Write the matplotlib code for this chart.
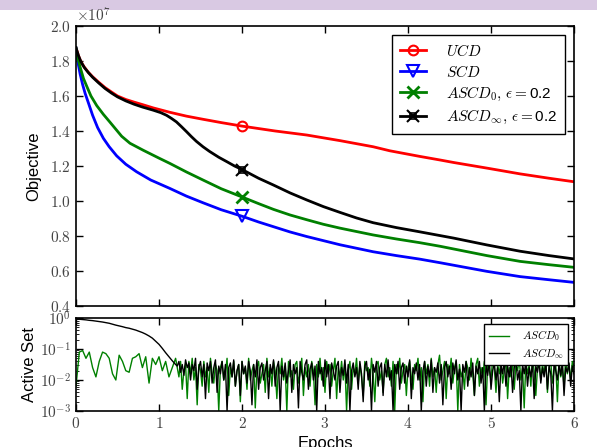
import numpy as np
import matplotlib
matplotlib.use("Agg")
import matplotlib.pyplot as plt
from matplotlib.patches import Rectangle
from matplotlib.legend_handler import HandlerTuple
from matplotlib.lines import Line2D

plt.rcParams['font.family'] = ['Liberation Sans', 'DejaVu Sans']
plt.rcParams['mathtext.fontset'] = 'cm'

# ---- Objective curves (units of 1e7) ----
ucd_x = [0, 0.03, 0.06, 0.1, 0.15, 0.2, 0.27, 0.35, 0.43, 0.5, 0.6, 0.7, 0.8, 0.93, 1.13, 1.33, 1.53, 1.75, 2.0,
         2.4, 2.78, 3.18, 3.58, 3.78, 4.14, 4.39, 4.55, 4.95, 5.35, 5.7, 6.0]
ucd_y = [1.875, 1.83, 1.795, 1.765, 1.735, 1.71, 1.68, 1.648, 1.622, 1.60, 1.58, 1.565, 1.551, 1.532, 1.507, 1.485,
         1.467, 1.448, 1.428, 1.40, 1.377, 1.345, 1.31, 1.287, 1.255, 1.234, 1.22, 1.188, 1.155, 1.13, 1.11]

scd_x = [0, 0.015, 0.03, 0.05, 0.08, 0.11, 0.15, 0.2, 0.26, 0.33, 0.4, 0.49, 0.6, 0.73, 0.9, 1.13, 1.33, 1.53, 1.75,
         2.0, 2.2, 2.38, 2.58, 2.78, 3.18, 3.58, 3.86, 4.14, 4.39, 4.95, 5.35, 5.7, 6.0]
scd_y = [1.875, 1.82, 1.775, 1.725, 1.665, 1.615, 1.56, 1.49, 1.42, 1.358, 1.31, 1.258, 1.21, 1.167, 1.12, 1.072,
         1.028, 0.99, 0.95, 0.913, 0.88, 0.853, 0.823, 0.797, 0.75, 0.71, 0.688, 0.668, 0.647, 0.598, 0.568, 0.55, 0.535]

ascd0_x = [0, 0.02, 0.05, 0.09, 0.13, 0.18, 0.25, 0.33, 0.41, 0.48, 0.55, 0.65, 0.81, 1.0, 1.13, 1.33, 1.53, 1.75,
           2.0, 2.2, 2.38, 2.58, 2.78, 2.98, 3.18, 3.58, 3.86, 4.14, 4.39, 4.95, 5.35, 5.7, 6.0]
ascd0_y = [1.875, 1.82, 1.765, 1.70, 1.655, 1.60, 1.545, 1.495, 1.45, 1.41, 1.37, 1.33, 1.29, 1.245, 1.215, 1.166,
           1.12, 1.07, 1.023, 0.985, 0.952, 0.92, 0.893, 0.867, 0.845, 0.806, 0.783, 0.762, 0.741, 0.688, 0.655,
           0.636, 0.621]

ascdinf_x = [0, 0.03, 0.06, 0.1, 0.15, 0.2, 0.27, 0.35, 0.43, 0.5, 0.6, 0.7, 0.8, 0.93, 1.02, 1.09, 1.15, 1.21, 1.27,
             1.33, 1.39, 1.45, 1.53, 1.61, 1.72, 1.82, 1.91, 2.0, 2.2, 2.38, 2.58, 2.78, 2.98, 3.18, 3.38, 3.58,
             3.86, 4.14, 4.55, 4.95, 5.35, 5.7, 6.0]
ascdinf_y = [1.875, 1.83, 1.795, 1.763, 1.733, 1.707, 1.676, 1.643, 1.616, 1.595, 1.572, 1.553, 1.537, 1.519, 1.505,
             1.49, 1.472, 1.452, 1.425, 1.397, 1.368, 1.341, 1.31, 1.283, 1.25, 1.224, 1.20, 1.18, 1.13, 1.091,
             1.046, 1.006, 0.968, 0.935, 0.903, 0.876, 0.848, 0.824, 0.788, 0.749, 0.713, 0.688, 0.669]

# ---- Active set fraction (log10 exponents) ----
# first 31 samples every 0.04 epochs (0 .. 1.2), then 240 samples every 0.02 epochs (1.22 .. 6.0)
active_epochs = np.concatenate([np.arange(31) * 0.04, 1.2 + np.arange(1, 241) * 0.02])
ascd0_active_exp = [
    -2.2, -1.1, -1.05, -1.3, -1.1, -1.6, -1.9, -1.4, -1.1, -1.15, -1.3, -1.8, -2.0, -1.2, -1.4, -1.7, -1.75, -1.3,
    -1.25, -1.15, -1.6, -1.25, -2.1, -1.3, -1.5, -1.25, -1.7, -1.4, -1.9, -1.6, -1.3,
    -1.6, -1.9, -1.4, -2.3, -1.7, -1.5, -2.6, -1.4, -1.8, -1.3, -2.0, -1.6, -2.8, -1.5, -1.7, -2.2, -1.4, -1.9, -1.6, -2.4,
    -1.3, -1.8, -2.1, -1.5, -1.7, -3.0, -1.6, -1.4, -2.0, -1.8, -1.3, -2.5, -1.6, -1.9, -1.4, -2.2, -1.7, -1.5, -2.7, -1.4,
    -1.8, -1.6, -2.3, -1.3, -2.0, -1.7, -1.5, -2.9, -1.6, -1.4, -2.1, -1.8, -1.5, -2.4, -1.3, -1.9, -1.6, -2.2, -1.4, -1.7,
    -2.6, -1.5, -1.8, -1.3, -2.0, -1.6, -3.0, -1.4, -1.9, -1.7, -2.3, -1.5, -1.4, -2.1, -1.8, -1.3, -2.5, -1.6, -1.9, -1.5,
    -2.2, -1.4, -1.7, -2.8, -1.5, -1.9, -1.3, -2.0, -1.6, -2.4, -1.4, -1.8, -1.5, -2.2, -1.7, -1.3, -2.6, -1.6, -1.9, -1.4,
    -2.0, -1.5, -3.0, -1.7, -1.4, -2.3, -1.6, -1.8, -1.3, -2.1, -1.5, -1.9, -2.5, -1.4, -1.7, -1.6, -2.2, -1.3, -1.8, -2.7,
    -1.5, -1.4, -2.0, -1.7, -2.4, -1.5, -1.3, -1.9, -1.6, -2.2, -1.4, -3.0, -1.5, -1.8, -1.3, -2.1, -1.7, -1.5, -2.5, -1.6,
    -1.4, -1.9, -2.3, -1.5, -1.7, -1.3, -2.0, -1.6, -2.7, -1.4, -1.8, -1.5, -2.2, -1.3, -1.9, -1.6, -2.4, -1.5, -1.2, -2.0,
    -1.7, -1.4, -2.6, -1.5, -1.8, -1.3, -2.1, -1.6, -1.4, -3.0, -1.5, -1.9, -1.7, -2.3, -1.4, -1.6, -2.0, -1.3, -1.8, -2.5,
    -1.5, -1.3, -2.2, -1.6, -1.9, -1.4, -2.8, -1.5, -1.7, -2.0, -1.3, -1.6, -2.4, -1.5, -1.8, -1.4, -2.1, -1.7, -1.3, -2.6,
    -1.6, -1.9, -1.4, -2.3, -1.5, -1.7, -1.3, -2.0, -1.6, -2.9, -1.4, -1.8, -1.5, -2.2, -1.3, -1.7, -2.5, -1.6, -1.4, -2.0,
    -1.5, -1.8, -1.3, -2.4, -1.6, -1.4, -2.1, -1.7, -1.5, -2.7, -1.4, -1.9, -1.6, -2.2, -1.3, -1.8, -1.5, -2.0, -1.4, -1.6,
]
ascdinf_active_exp = [
    -0.03, -0.04, -0.05, -0.06, -0.075, -0.085, -0.1, -0.115, -0.13, -0.15, -0.17, -0.2, -0.23, -0.255, -0.28, -0.31,
    -0.33, -0.36, -0.39, -0.43, -0.47, -0.52, -0.58, -0.65, -0.75, -0.85, -0.98, -1.12, -1.25, -1.38, -1.5,
    -1.55, -1.4, -1.75, -1.5, -1.85, -1.35, -1.6, -1.45, -2.0, -1.5, -1.7, -1.3, -2.3, -1.6, -1.4, -1.9, -1.5, -2.6, -1.45, -1.7,
    -1.4, -2.1, -1.6, -1.35, -2.4, -1.55, -1.8, -1.4, -2.0, -1.5, -3.0, -1.6, -1.45, -1.9, -1.35, -2.2, -1.7, -1.5, -2.5, -1.4,
    -1.8, -1.55, -2.1, -1.4, -1.7, -2.8, -1.5, -1.9, -1.35, -2.3, -1.6, -1.45, -2.0, -1.7, -1.4, -2.6, -1.5, -1.8, -1.35, -2.2,
    -1.6, -1.4, -3.0, -1.55, -1.9, -1.45, -2.1, -1.7, -1.35, -2.4, -1.5, -1.8, -1.6, -2.9, -1.4, -1.75, -2.0, -1.5, -1.35, -2.3,
    -1.65, -1.45, -2.0, -1.55, -3.0, -1.4, -1.8, -1.6, -2.2, -1.35, -1.9, -1.5, -2.6, -1.45, -1.7, -2.0, -1.55, -1.4, -2.4, -1.6,
    -1.85, -1.35, -2.1, -1.5, -3.0, -1.7, -1.45, -1.9, -1.6, -2.3, -1.4, -1.8, -2.7, -1.55, -1.4, -2.0, -1.65, -3.0, -1.5, -1.75,
    -1.4, -2.2, -1.6, -1.45, -2.5, -1.5, -1.9, -1.35, -2.0, -1.7, -3.0, -1.5, -1.8, -1.4, -2.3, -1.6, -1.45, -2.1, -1.55, -1.9,
    -1.35, -2.6, -1.6, -1.8, -1.45, -2.0, -1.5, -3.0, -1.7, -1.4, -2.2, -1.55, -1.9, -1.35, -2.4, -1.6, -1.75, -1.45, -2.1, -1.5,
    -2.8, -1.6, -1.4, -1.9, -1.55, -2.3, -1.45, -1.8, -1.35, -2.0, -1.65, -3.0, -1.5, -1.75, -1.4, -2.2, -1.6, -1.9, -1.45, -2.5,
    -1.55, -1.8, -1.4, -2.1, -1.6, -3.0, -1.5, -1.85, -1.35, -2.3, -1.7, -1.45, -2.0, -1.6, -2.7, -1.5, -1.8, -1.4, -2.2, -1.55,
    -1.9, -1.45, -2.4, -1.6, -1.35, -2.0, -1.7, -3.0, -1.5, -1.8, -1.4, -2.2, -1.6, -1.9, -1.45, -2.6, -1.55, -1.75, -1.4, -2.1,
    -1.6, -1.9, -1.45, -2.3, -1.55, -1.8, -3.0, -1.4, -1.7, -2.0, -1.5, -1.85, -1.4, -2.5, -1.6, -1.75, -1.45, -2.2, -1.55, -1.8,
]

obj_yticks = [0.4, 0.6, 0.8, 1.0, 1.2, 1.4, 1.6, 1.8, 2.0]
epoch_ticks = [0, 1, 2, 3, 4, 5, 6]

W, H = 597, 447
fig = plt.figure(figsize=(W / 100, H / 100), dpi=100)
fig.patches.append(Rectangle((0, 1 - 10 / H), 1, 10 / H, transform=fig.transFigure,
                             facecolor='#d9c9e3', edgecolor='none', zorder=-1))

ax1 = fig.add_axes([76 / W, 1 - 306 / H, 498 / W, 280 / H])
ax2 = fig.add_axes([76 / W, 1 - 411 / H, 498 / W, 93 / H])

def mark_at_two(xs):
    return [xs.index(2.0)]

lw = 2
l_ucd, = ax1.plot(ucd_x, ucd_y, color='red', lw=lw, marker='o', mfc='none', mec='red', mew=1.5, ms=7,
                  markevery=mark_at_two(ucd_x))
l_scd, = ax1.plot(scd_x, scd_y, color='blue', lw=lw, marker='v', mfc='none', mec='blue', mew=1.5, ms=8,
                  markevery=mark_at_two(scd_x))
l_a0, = ax1.plot(ascd0_x, ascd0_y, color='green', lw=lw, marker='x', mec='green', mew=2, ms=8,
                 markevery=mark_at_two(ascd0_x))
l_ai, = ax1.plot(ascdinf_x, ascdinf_y, color='black', lw=lw, marker='x', mec='black', mew=1.5, ms=8,
                 markevery=mark_at_two(ascdinf_x))
ax1.plot(ascdinf_x, ascdinf_y, color='none', lw=0, marker='s', mfc='none', mec='black', mew=1.2, ms=5,
         markevery=mark_at_two(ascdinf_x))
sq = Line2D([], [], color='none', marker='s', mfc='none', mec='black', mew=1.2, ms=5, lw=0)

ax1.set_xlim(0, 6)
ax1.set_ylim(0.4, 2.0)
ax1.set_yticks(obj_yticks)
ax1.set_yticklabels([r'$%.1f$' % v for v in obj_yticks])
ax1.set_xticks(epoch_ticks)
ax1.set_xticklabels([])
ax1.tick_params(direction='in', top=True, right=True, length=5, width=1, labelsize=11, labelcolor='#444444')
ax1.text(0.0, 1.005, r'$\times10^{7}$', transform=ax1.transAxes, fontsize=11, color='#444444',
         ha='left', va='bottom')
ax1.set_ylabel('Objective', fontsize=12, labelpad=6)

leg1 = ax1.legend([l_ucd, l_scd, l_a0, (l_ai, sq)],
                  [r'$UCD$', r'$SCD$', r'$ASCD_0,\,\epsilon=$0.2', r'$ASCD_{\infty},\,\epsilon=$0.2'],
                  handler_map={tuple: HandlerTuple(ndivide=1, pad=0)},
                  loc='upper right', fontsize=11, handlelength=1.75, borderpad=0.5, labelspacing=0.33,
                  handletextpad=1.3, borderaxespad=0,
                  fancybox=False, edgecolor='black', framealpha=1, bbox_to_anchor=(1 - 9 / 498, 1 - 9 / 280))
leg1.get_frame().set_linewidth(1)

ax2.plot(active_epochs, 10.0 ** np.array(ascd0_active_exp), color='green', lw=1.0, label=r'$ASCD_0$')
ax2.plot(active_epochs, 10.0 ** np.array(ascdinf_active_exp), color='black', lw=1.0, label=r'$ASCD_{\infty}$')
ax2.set_yscale('log')
ax2.set_xlim(0, 6)
ax2.set_ylim(1e-3, 1)
ax2.set_xticks(epoch_ticks)
ax2.set_xticklabels([r'$%d$' % v for v in epoch_ticks])
ax2.set_yticks([1e-3, 1e-2, 1e-1, 1])
ax2.set_yticklabels([r'$10^{-3}$', r'$10^{-2}$', r'$10^{-1}$', r'$10^{0}$'])
ax2.tick_params(which='both', direction='in', top=True, right=True, labelsize=11, labelcolor='#444444')
ax2.tick_params(which='major', length=5, width=1)
ax2.tick_params(which='minor', length=2.5, width=0.6)
ax2.set_ylabel('Active Set', fontsize=12, labelpad=2)
ax2.set_xlabel('Epochs', fontsize=12, labelpad=4)
leg2 = ax2.legend(loc='upper right', fontsize=8, handlelength=1.8, fancybox=False, edgecolor='black',
                  framealpha=1, borderpad=0.4, labelspacing=0.25, handletextpad=1.2,
                  borderaxespad=0, bbox_to_anchor=(1 - 6 / 498, 1 - 6 / 93))
leg2.get_frame().set_linewidth(1)

for ax in (ax1, ax2):
    for s in ax.spines.values():
        s.set_linewidth(1.2)

fig.savefig('out.png', dpi=100)
